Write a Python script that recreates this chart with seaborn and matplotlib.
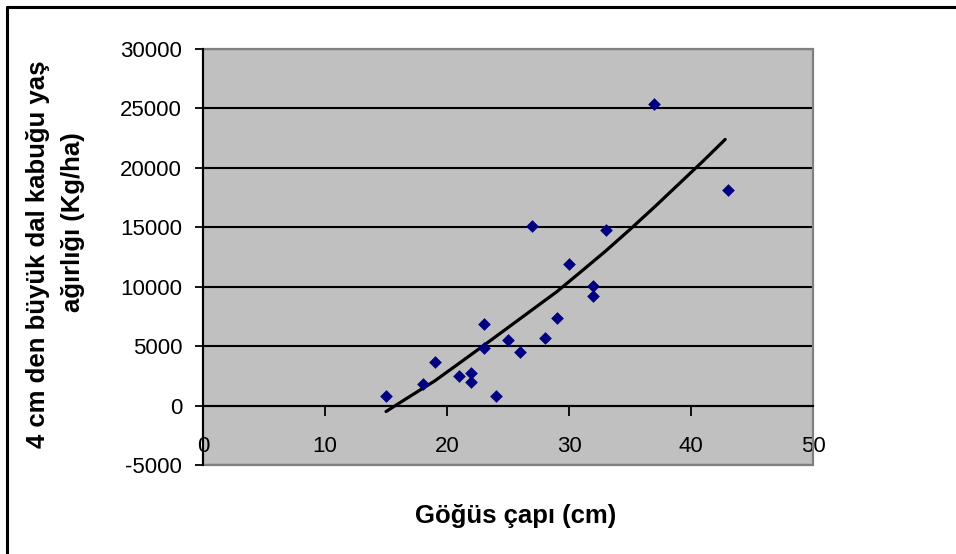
import numpy as np
import pandas as pd
import matplotlib
matplotlib.use("Agg")
import matplotlib.pyplot as plt
import seaborn as sns
from matplotlib.patches import Rectangle
from matplotlib.lines import Line2D

# ---- data ----
diameter_cm = [15, 18, 19, 21, 22, 22, 23, 23, 24, 25, 26, 27, 28, 29, 30, 32, 32, 33, 37, 43]
bark_weight = [800, 1850, 3700, 2500, 2750, 1950, 6900, 4850, 800, 5550, 4500, 15100,
               5700, 7400, 11950, 10100, 9200, 14800, 25400, 18150]
# trend line (Excel polynomial trend)
trend_x = [15, 17, 19, 21, 23, 25, 27, 29, 31, 33, 35, 37, 39, 41, 42.8]
trend_y = [-500, 800, 2080, 3560, 5050, 6560, 8070, 9580, 11280, 13000, 14820,
           16700, 18640, 20580, 22390]
x_ticks = [0, 10, 20, 30, 40, 50]
y_ticks = [-5000, 0, 5000, 10000, 15000, 20000, 25000, 30000]
x_label = "Göğüs çapı (cm)"
y_label_lines = ["4 cm den büyük dal kabuğu yaş", "ağırlığı (Kg/ha)"]

sns.set_theme(style="white")
plt.rcParams["font.family"] = ["Liberation Sans", "DejaVu Sans"]

df = pd.DataFrame({"x": diameter_cm, "y": bark_weight})
trend = pd.DataFrame({"x": trend_x, "y": trend_y})

W, H = 956, 554
fig = plt.figure(figsize=(W / 100, H / 100), dpi=100)
ax = fig.add_axes([203 / W, 1 - 465 / H, 610 / W, 416 / H])
ax.set_facecolor("#C0C0C0")

sns.lineplot(data=trend, x="x", y="y", sort=False, estimator=None, color="black",
             lw=2.3, zorder=3, ax=ax, legend=False)
sns.scatterplot(data=df, x="x", y="y", marker="D", s=42, color="#000080",
                edgecolor="#000080", linewidth=0, zorder=4, ax=ax, legend=False)

ax.set_xlim(0, 50)
ax.set_ylim(-5000, 30000)
ax.set_xticks(x_ticks)
ax.set_yticks(y_ticks)
ax.set_xticklabels([str(v) for v in x_ticks])
ax.set_yticklabels([str(v) for v in y_ticks])
ax.set_xlabel("")
ax.set_ylabel("")

ax.set_axisbelow(True)
ax.yaxis.grid(True, color="black", lw=1.5)
ax.xaxis.grid(False)

# plot area border (gray)
ax.add_patch(Rectangle((0, 0), 1, 1, transform=ax.transAxes, fill=False,
                       edgecolor="#808080", lw=1.6, zorder=1, clip_on=False))

for s in ["top", "right"]:
    ax.spines[s].set_visible(False)
ax.spines["bottom"].set_position(("data", 0))
ax.spines["bottom"].set_color("black")
ax.spines["bottom"].set_linewidth(1.5)
ax.spines["left"].set_color("black")
ax.spines["left"].set_linewidth(1.5)

ax.tick_params(axis="x", direction="out", length=7, width=1.3, color="black",
               pad=15, labelsize=16, labelcolor="black", bottom=True)
ax.tick_params(axis="y", direction="out", length=6, width=1.3, color="black",
               pad=9, labelsize=16, labelcolor="black", left=True)

fig.text(516 / W, 1 - 516 / H, x_label, ha="center", va="center",
         fontsize=18.5, fontweight="bold", color="black")
fig.text(38 / W, 1 - 254 / H, y_label_lines[0], ha="center", va="center", rotation=90,
         fontsize=18.5, fontweight="bold", color="black")
fig.text(73 / W, 1 - 222 / H, y_label_lines[1], ha="center", va="center", rotation=90,
         fontsize=18.5, fontweight="bold", color="black")

# outer chart border (left and top visible)
fig.add_artist(Line2D([7 / W, 7 / W], [0, 1 - 7 / H], transform=fig.transFigure,
                      color="black", lw=2.2))
fig.add_artist(Line2D([7 / W, 1], [1 - 7 / H, 1 - 7 / H], transform=fig.transFigure,
                      color="black", lw=2.2))

fig.savefig("out.png", dpi=100, facecolor="white")
